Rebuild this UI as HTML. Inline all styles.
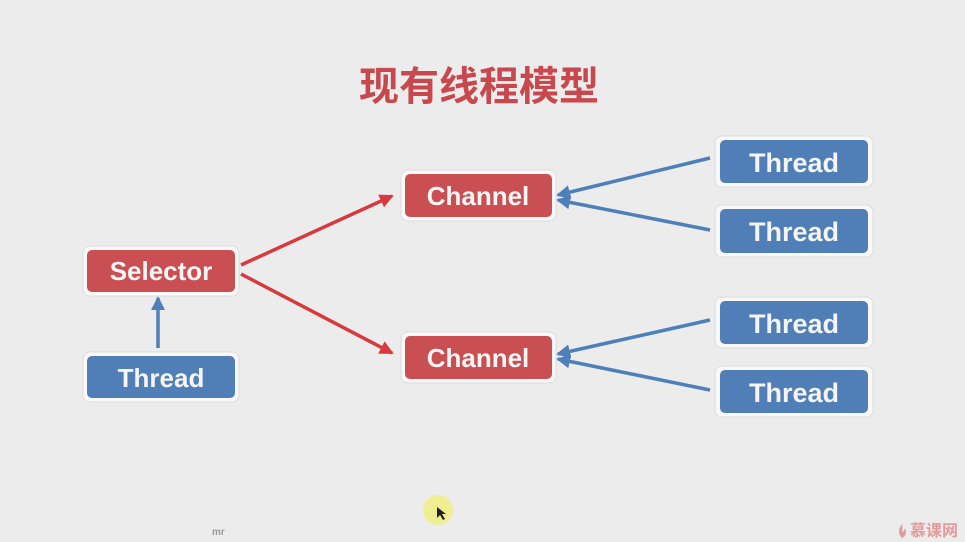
<!DOCTYPE html>
<html><head><meta charset="utf-8"><style>
html,body{margin:0;padding:0;background:#ececec;}
svg{display:block}
text{font-family:"Liberation Sans","Noto Sans CJK SC",sans-serif;font-weight:bold;}
</style></head><body>
<svg width="965" height="542" viewBox="0 0 965 542" xmlns="http://www.w3.org/2000/svg">
<rect width="965" height="542" fill="#ececec"/>
<text x="479" y="100" text-anchor="middle" font-size="40" fill="#c8494d" font-family="Noto Sans CJK SC, sans-serif">现有线程模型</text>
<defs>
<marker id="ar" markerWidth="10" markerHeight="10" refX="8" refY="5" orient="auto" markerUnits="userSpaceOnUse" viewBox="0 0 10 10"><path d="M0,0 L10,5 L0,10z" fill="#d63a3e" transform="scale(1)"/></marker>
<marker id="ab" markerWidth="14" markerHeight="14" refX="12" refY="7" orient="auto" markerUnits="userSpaceOnUse"><path d="M0,0 L14,7 L0,14z" fill="#4e7fb8"/></marker>
<marker id="ar2" markerWidth="14" markerHeight="14" refX="12" refY="7" orient="auto" markerUnits="userSpaceOnUse"><path d="M0,0 L14,7 L0,14z" fill="#d63a3e"/></marker>
</defs>
<g stroke-width="3.5" fill="none">
<line x1="241" y1="265" x2="392" y2="196" stroke="#d63a3e" marker-end="url(#ar2)"/>
<line x1="241" y1="274" x2="392" y2="353" stroke="#d63a3e" marker-end="url(#ar2)"/>
<line x1="158" y1="348" x2="158" y2="298" stroke="#4e7fb8" marker-end="url(#ab)"/>
<line x1="710" y1="158" x2="558" y2="195" stroke="#4e7fb8" marker-end="url(#ab)"/>
<line x1="710" y1="230" x2="558" y2="200" stroke="#4e7fb8" marker-end="url(#ab)"/>
<line x1="710" y1="320" x2="558" y2="354" stroke="#4e7fb8" marker-end="url(#ab)"/>
<line x1="710" y1="390" x2="558" y2="359" stroke="#4e7fb8" marker-end="url(#ab)"/>
</g>
<g>
<rect x="83" y="246" width="156" height="50" rx="7" fill="#f8f8f8" stroke="#dcdcdc"/>
<rect x="87" y="250" width="148" height="42" rx="5" fill="#c94f52"/>
<text x="161" y="280" text-anchor="middle" font-size="26" fill="#f5f5f5">Selector</text>

<rect x="83" y="352" width="156" height="50" rx="7" fill="#f8f8f8" stroke="#dcdcdc"/>
<rect x="87" y="356" width="148" height="42" rx="5" fill="#4f7fb6"/>
<text x="161" y="387" text-anchor="middle" font-size="26" fill="#f5f5f5">Thread</text>

<rect x="401" y="170" width="155" height="51" rx="7" fill="#f8f8f8" stroke="#dcdcdc"/>
<rect x="405" y="174" width="147" height="43" rx="5" fill="#c94f52"/>
<text x="478" y="205" text-anchor="middle" font-size="26" fill="#f5f5f5">Channel</text>

<rect x="401" y="332" width="155" height="51" rx="7" fill="#f8f8f8" stroke="#dcdcdc"/>
<rect x="405" y="336" width="147" height="43" rx="5" fill="#c94f52"/>
<text x="478" y="367" text-anchor="middle" font-size="26" fill="#f5f5f5">Channel</text>

<rect x="715" y="136" width="158" height="51" rx="7" fill="#f8f8f8" stroke="#dcdcdc"/>
<rect x="720" y="140" width="148" height="43" rx="5" fill="#4f7fb6"/>
<text x="794" y="172" text-anchor="middle" font-size="27" fill="#f5f5f5">Thread</text>

<rect x="715" y="205" width="158" height="52" rx="7" fill="#f8f8f8" stroke="#dcdcdc"/>
<rect x="720" y="209" width="148" height="44" rx="5" fill="#4f7fb6"/>
<text x="794" y="241" text-anchor="middle" font-size="27" fill="#f5f5f5">Thread</text>

<rect x="715" y="297" width="158" height="51" rx="7" fill="#f8f8f8" stroke="#dcdcdc"/>
<rect x="720" y="301" width="148" height="43" rx="5" fill="#4f7fb6"/>
<text x="794" y="333" text-anchor="middle" font-size="27" fill="#f5f5f5">Thread</text>

<rect x="715" y="366" width="158" height="51" rx="7" fill="#f8f8f8" stroke="#dcdcdc"/>
<rect x="720" y="370" width="148" height="43" rx="5" fill="#4f7fb6"/>
<text x="794" y="402" text-anchor="middle" font-size="27" fill="#f5f5f5">Thread</text>
</g>
<circle cx="438" cy="510" r="15" fill="#f0ee8a" opacity="0.9"/>
<path d="M437,507 l0,11 l3,-3 l3,5 l2,-1 l-3,-5 l4,0z" fill="#222"/>
<text x="212" y="535" font-size="10" fill="#999" font-family="Liberation Serif, serif">mr</text>
<text x="910" y="536" font-size="16" fill="#e39a9a" font-weight="normal" font-family="Noto Sans CJK SC, sans-serif">慕课网</text>
<path d="M902,524 q-6,8 0,14 q6,-3 3,-10 q-1,4 -3,4 q1,-4 0,-8z" fill="#e39a9a"/>
</svg>
</body></html>
